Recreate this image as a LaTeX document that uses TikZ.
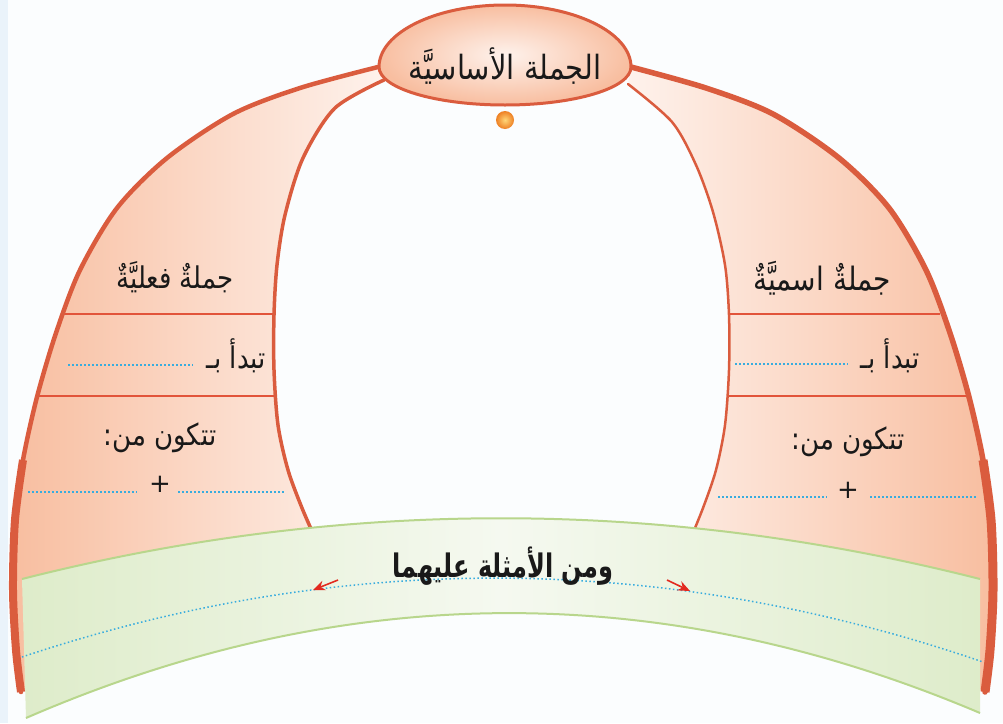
\documentclass[tikz,border=0pt]{standalone}
\usepackage{fontspec}
\usepackage{graphicx}
\usetikzlibrary{arrows.meta}
\TeXXeTstate=1
\newfontfamily\arabicfont[Script=Arabic]{DejaVu Sans}
\newcommand{\artext}[1]{\scalebox{1}[1.15]{\beginR #1\endR}}
\newcommand{\artall}[1]{\scalebox{1}[1.35]{\beginR #1\endR}}
\definecolor{edgeRed}{RGB}{218,92,62}
\definecolor{peachD}{RGB}{248,190,160}
\definecolor{peachL}{RGB}{254,242,236}
\definecolor{greenF}{RGB}{222,236,202}
\definecolor{greenL}{RGB}{245,249,240}
\definecolor{greenE}{RGB}{184,214,140}
\definecolor{dotBlue}{RGB}{56,172,222}
\definecolor{arrRed}{RGB}{226,42,32}
\definecolor{lineRed}{RGB}{226,84,58}
\definecolor{bgBlue}{RGB}{234,243,250}
\definecolor{bgWhite}{RGB}{251,253,254}
\definecolor{ballIn}{RGB}{255,214,120}
\definecolor{ballOut}{RGB}{238,128,36}
\begin{document}
\begin{tikzpicture}[x=1pt,y=-1pt,
  outeredge/.style={draw=edgeRed,line width=4.5pt,line cap=round,line join=round},
  inneredge/.style={draw=edgeRed,line width=3.5pt,line cap=round},
  hline/.style={draw=lineRed,line width=1.3pt},
  dotline/.style={draw=dotBlue,line width=1.5pt,dash pattern=on 1.5pt off 2.5pt},
  lbl/.style={inner sep=0pt,font=\arabicfont\fontsize{26pt}{30pt}\selectfont,text=black!90},
  ttl/.style={inner sep=0pt,font=\arabicfont\fontsize{29pt}{33pt}\selectfont,text=black!90},
  extxt/.style={inner sep=0pt,font=\arabicfont\bfseries\fontsize{24pt}{28pt}\selectfont,text=black!90},
  plussign/.style={inner sep=0pt,font=\arabicfont\fontsize{26pt}{28pt}\selectfont,text=black!90},
  exarrow/.style={draw=arrRed,line width=1.6pt,-{Stealth[length=12pt,width=10pt]}}
]
\useasboundingbox (0,0) rectangle (1003,723);
\fill[bgWhite] (0,0) rectangle (1003,723);
\fill[bgBlue] (0,0) rectangle (8,723);

% ---------- arch fills ----------
\shade[left color=peachD,right color=peachL]
  plot[smooth] coordinates {(378,67) (300,88) (233,114) (167,158) (117,208) (80,270) (56,333) (37,397) (23,460) (15,520) (13,590) (16,650) (21,692)}
  -- (316,540)
  -- plot[smooth] coordinates {(316,540) (302,508) (288,470) (278,425) (274,370) (274,315) (277,265) (285,215) (303,158) (335,108) (384,80)}
  -- cycle;
\shade[left color=peachL,right color=peachD]
  plot[smooth] coordinates {(631,67) (706,88) (773,114) (839,158) (889,208) (926,270) (950,333) (969,397) (983,460) (991,520) (993,590) (990,650) (985,692)}
  -- (690,540)
  -- plot[smooth] coordinates {(690,540) (703,508) (716,470) (725,425) (729,370) (729,315) (725,265) (713,212) (696,165) (672,122) (628,84)}
  -- cycle;

% ---------- section lines ----------
\draw[hline] (64,314) -- (274,314);
\draw[hline] (37,396) -- (275,396);
\draw[hline] (729,314) -- (940,314);
\draw[hline] (729,396) -- (969,396);

% ---------- arch edges ----------
\draw[outeredge] plot[smooth] coordinates {(378,67) (300,88) (233,114) (167,158) (117,208) (80,270) (56,333) (37,397) (23,460) (15,520) (13,590) (16,650) (21,692)};
\draw[outeredge,line width=8pt,line cap=butt] plot[smooth] coordinates {(23,460) (15,520) (13,590) (16,650) (21,692)};
\draw[outeredge,line width=5.5pt] plot[smooth] coordinates {(631,67) (706,88) (773,114) (839,158) (889,208) (926,270) (950,333) (969,397) (983,460) (991,520) (993,590) (990,650) (985,692)};
\draw[outeredge,line width=9pt,line cap=butt] plot[smooth] coordinates {(983,460) (991,520) (993,590) (990,650) (985,692)};
\draw[inneredge] plot[smooth] coordinates {(316,540) (302,508) (288,470) (278,425) (274,370) (274,315) (277,265) (285,215) (303,158) (335,108) (384,80)};
\draw[inneredge,line width=2.5pt] plot[smooth] coordinates {(690,540) (703,508) (716,470) (725,425) (729,370) (729,315) (725,265) (713,212) (696,165) (672,122) (628,84)};

% ---------- green band ----------
\shade[left color=greenF,right color=greenF,middle color=greenL]
  (22,579) .. controls (341,498) and (661,498) .. (980,579) -- (980,713)
  .. controls (662,578) and (344,580) .. (26,718) -- cycle;
\draw[greenE,line width=2pt] (22,579) .. controls (341,498) and (661,498) .. (980,579);
\draw[greenE,line width=2pt] (980,713) .. controls (662,578) and (344,580) .. (26,718);
\draw[dotline] (22,657) .. controls (342,550) and (663,552) .. (983,662);
\coordinate (arrLfrom) at (338,580);
\coordinate (arrLto) at (313,590);
\coordinate (arrRfrom) at (667,580);
\coordinate (arrRto) at (690,591);
\draw[exarrow] (arrLfrom) -- (arrLto);
\draw[exarrow] (arrRfrom) -- (arrRto);

% ---------- top oval ----------
\shade[inner color=peachL,outer color=peachD]
  (631,67) .. controls (631,33) and (575,5) .. (505,5) .. controls (435,5) and (379,33) .. (379,67)
  .. controls (379,88) and (435,105) .. (505,105) .. controls (575,105) and (631,88) .. (631,67) -- cycle;
\draw[edgeRed,line width=3pt]
  (631,67) .. controls (631,33) and (575,5) .. (505,5) .. controls (435,5) and (379,33) .. (379,67)
  .. controls (379,88) and (435,105) .. (505,105) .. controls (575,105) and (631,88) .. (631,67) -- cycle;
\shade[inner color=ballIn,outer color=ballOut] (505,120) circle[radius=9pt];

% ---------- texts ----------
\node[ttl] (title) at (505,66) {\artext{الجملة الأساسيَّة}};

\node[lbl] (verbal) at (175,277) {\artext{جملةٌ فعليَّةٌ}};
\node[lbl,anchor=east] (verbalStart) at (266,356) {\artext{تبدأ بـ}};
\draw[dotline] (68,365) -- (193,365);
\node[lbl] (verbalParts) at (160,438) {\artext{تتكون من:}};
\node[plussign] (verbalPlus) at (160,484) {+};
\draw[dotline] (28,492) -- (137,492);
\draw[dotline] (178,492) -- (285,492);

\node[lbl,font=\arabicfont\fontsize{28pt}{32pt}\selectfont] (nominal) at (822,278) {\artext{جملةٌ اسميَّةٌ}};
\node[lbl,anchor=east] (nominalStart) at (920,356) {\artext{تبدأ بـ}};
\draw[dotline] (735,364) -- (848,364);
\node[lbl] (nominalParts) at (848,442) {\artext{تتكون من:}};
\node[plussign] (nominalPlus) at (848,490) {+};
\draw[dotline] (718,497) -- (827,497);
\draw[dotline] (870,497) -- (977,497);

\node[extxt] (examples) at (503,566) {\artall{ومن الأمثلة عليهما}};
\end{tikzpicture}
\end{document}
